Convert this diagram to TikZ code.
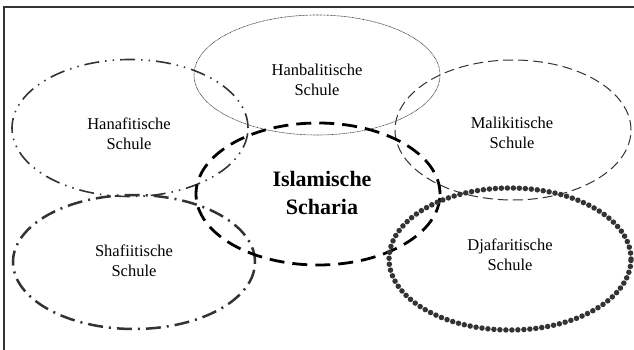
\documentclass[tikz,border=0pt]{standalone}
\usepackage{fontspec}
\setmainfont{Liberation Serif}
\usetikzlibrary{shapes.geometric}
\definecolor{ink}{HTML}{333333}
\tikzset{
  oval/.style={ellipse, inner sep=0pt},
  lbl/.style={align=center, font=\fontsize{16.5}{20}\selectfont, text=black, inner sep=0pt},
  hanafistyle/.style={draw=ink, line width=1.6pt, dash pattern=on 15pt off 6pt on 1.5pt off 6pt on 1.5pt off 6pt},
  hanbalistyle/.style={draw=ink, line width=0.6pt, dash pattern=on 0.8pt off 0.6pt},
  malikistyle/.style={draw=ink, line width=1pt, dash pattern=on 10pt off 5pt},
  scharistyle/.style={draw=black, line width=2.8pt, dash pattern=on 15pt off 8pt},
  shafistyle/.style={draw=ink, line width=2.5pt, dash pattern=on 15pt off 6pt on 2pt off 6pt},
  djafaristyle/.style={draw=ink, line width=5.5pt, line cap=round, dash pattern=on 0pt off 6pt},
}
\begin{document}
\begin{tikzpicture}[x=1pt, y=-1pt]
\useasboundingbox (0,0) rectangle (634,350);
\draw[line width=1.2pt, draw=ink] (4,350) coordinate (fbl) -- (4,7) coordinate (ftl) -- (634,7) coordinate (ftr);
\node[oval, hanbalistyle, minimum width=246pt, minimum height=120pt] (hanbali) at (317,75) {};
\node[oval, hanafistyle, minimum width=236pt, minimum height=137pt] (hanafi) at (130,128) {};
\node[oval, malikistyle, minimum width=236pt, minimum height=140pt] (maliki) at (513,130) {};
\node[oval, shafistyle, minimum width=242pt, minimum height=134pt] (shafi) at (134,262) {};
\node[oval, scharistyle, minimum width=244pt, minimum height=142pt] (scharia) at (318,194) {};
\node[oval, djafaristyle, minimum width=242pt, minimum height=142pt] (djafari) at (510,259) {};
\node[lbl] (thanafi) at (129,134) {Hanafitische\\Schule};
\node[lbl] (thanbali) at (317,80) {Hanbalitische\\Schule};
\node[lbl] (tmaliki) at (512,133) {Malikitische\\Schule};
\node[lbl] (tshafi) at (134,261) {Shafiitische\\Schule};
\node[lbl] (tdjafari) at (510,255) {Djafaritische\\Schule};
\node[align=center, inner sep=0pt, font=\bfseries\fontsize{22}{28}\selectfont] (tscharia) at (322,193) {Islamische\\Scharia};
\end{tikzpicture}
\end{document}
